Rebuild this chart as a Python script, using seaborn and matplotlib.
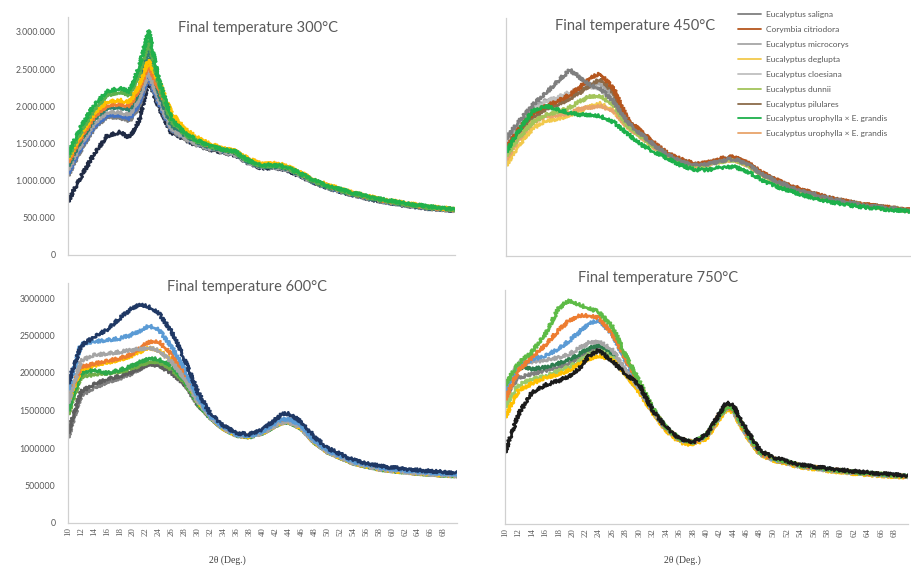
import matplotlib
matplotlib.use("Agg")
import matplotlib.pyplot as plt
from matplotlib.lines import Line2D
from matplotlib.ticker import FuncFormatter
import seaborn as sns

sns.set_theme(style="white")
plt.rcParams["font.family"] = ["Lato", "DejaVu Sans"]

# Diffraction angle (2θ, degrees) at which intensities were read
ANGLES = [10, 12, 14, 16, 18, 19.5, 21, 22.5, 24, 26, 28, 30, 32, 34, 36, 38,
          40, 42, 43, 44, 46, 48, 50, 54, 58, 62, 66, 70]

SPECIES = ["Eucalyptus saligna", "Corymbia citriodora", "Eucalyptus microcorys",
           "Eucalyptus deglupta", "Eucalyptus cloesiana", "Eucalyptus dunnii",
           "Eucalyptus pilulares", "Eucalyptus urophylla × E. grandis",
           "Eucalyptus urophylla × E. grandis"]

# Intensities (thousand counts), final temperature 300 °C
T300_SALIGNA = [1070, 1410, 1700, 1860, 1850, 1800, 2000, 2400, 2050, 1680, 1570, 1480, 1420, 1380, 1350, 1240, 1180, 1180, 1170, 1150, 1070, 980, 910, 810, 730, 670, 625, 600]
T300_CITRIODORA = [1250, 1580, 1850, 2010, 2030, 2000, 2230, 2560, 2250, 1850, 1660, 1550, 1470, 1430, 1390, 1280, 1220, 1220, 1210, 1180, 1100, 1010, 940, 830, 750, 690, 640, 610]
T300_MICROCORYS = [1150, 1480, 1760, 1920, 1920, 1880, 2100, 2460, 2100, 1700, 1580, 1490, 1430, 1390, 1350, 1240, 1180, 1180, 1170, 1150, 1070, 990, 920, 820, 740, 680, 630, 600]
T300_DEGLUPTA = [1300, 1620, 1900, 2060, 2080, 2050, 2280, 2620, 2350, 1920, 1700, 1580, 1490, 1440, 1400, 1290, 1230, 1230, 1220, 1190, 1110, 1020, 950, 840, 760, 700, 650, 615]
T300_CLOESIANA = [1100, 1440, 1720, 1880, 1880, 1830, 2040, 2420, 2060, 1690, 1590, 1500, 1440, 1400, 1360, 1250, 1190, 1190, 1180, 1160, 1080, 990, 920, 820, 740, 680, 635, 605]
T300_DUNNII = [1320, 1660, 1950, 2150, 2190, 2150, 2430, 2880, 2330, 1800, 1630, 1530, 1460, 1420, 1380, 1260, 1200, 1200, 1190, 1170, 1090, 1000, 930, 830, 750, 690, 640, 610]
T300_PILULARES = [720, 1050, 1350, 1600, 1650, 1580, 1800, 2360, 2000, 1650, 1560, 1470, 1420, 1380, 1340, 1230, 1170, 1170, 1160, 1140, 1060, 980, 910, 810, 730, 670, 625, 600]
T300_UROGRANDIS_A = [1360, 1720, 2010, 2200, 2240, 2200, 2520, 3020, 2380, 1840, 1650, 1540, 1470, 1420, 1390, 1270, 1210, 1210, 1200, 1180, 1100, 1010, 940, 840, 760, 700, 650, 615]
T300_UROGRANDIS_B = [1200, 1540, 1820, 1980, 1990, 1950, 2200, 2780, 2200, 1750, 1620, 1520, 1450, 1410, 1370, 1250, 1190, 1190, 1180, 1160, 1080, 990, 920, 820, 740, 680, 635, 605]

# Final temperature 450 °C
T450_SALIGNA = [1580, 1820, 2030, 2200, 2380, 2500, 2400, 2300, 2250, 2080, 1800, 1640, 1490, 1360, 1270, 1220, 1240, 1280, 1300, 1300, 1230, 1100, 1010, 870, 770, 700, 650, 610]
T450_CITRIODORA = [1450, 1720, 1920, 2020, 2100, 2170, 2270, 2400, 2450, 2250, 1850, 1680, 1520, 1380, 1300, 1240, 1260, 1310, 1330, 1330, 1250, 1120, 1030, 890, 780, 710, 660, 620]
T450_MICROCORYS = [1520, 1780, 1980, 2100, 2120, 2150, 2220, 2300, 2330, 2150, 1780, 1630, 1480, 1350, 1270, 1220, 1240, 1280, 1300, 1300, 1230, 1100, 1010, 870, 770, 700, 650, 610]
T450_DEGLUPTA = [1220, 1500, 1720, 1820, 1850, 1900, 1950, 2020, 2050, 1950, 1740, 1600, 1460, 1340, 1260, 1210, 1230, 1270, 1290, 1290, 1220, 1090, 1000, 860, 760, 700, 650, 610]
T450_CLOESIANA = [1480, 1740, 1950, 2080, 2150, 2200, 2250, 2280, 2250, 2100, 1770, 1620, 1480, 1350, 1270, 1220, 1240, 1280, 1300, 1300, 1230, 1100, 1010, 870, 770, 700, 650, 610]
T450_DUNNII = [1350, 1600, 1800, 1900, 1950, 2000, 2080, 2150, 2150, 2030, 1760, 1610, 1470, 1340, 1260, 1210, 1230, 1270, 1290, 1290, 1220, 1090, 1000, 860, 760, 700, 650, 610]
T450_PILULARES = [1400, 1650, 1860, 1980, 2050, 2120, 2200, 2300, 2380, 2200, 1820, 1660, 1500, 1370, 1290, 1230, 1250, 1300, 1320, 1320, 1240, 1110, 1020, 880, 780, 710, 660, 615]
T450_UROGRANDIS_A = [1400, 1700, 1950, 2020, 1960, 1920, 1900, 1900, 1880, 1800, 1650, 1500, 1400, 1310, 1220, 1160, 1160, 1190, 1200, 1200, 1130, 1020, 940, 820, 730, 670, 630, 600]
T450_UROGRANDIS_B = [1300, 1580, 1800, 1880, 1900, 1920, 1980, 2000, 2020, 1950, 1740, 1600, 1460, 1340, 1260, 1210, 1230, 1270, 1290, 1290, 1220, 1090, 1000, 860, 760, 700, 650, 610]

# Final temperature 600 °C
T600_SALIGNA = [1140, 1700, 1800, 1880, 1930, 1980, 2050, 2120, 2120, 2020, 1860, 1580, 1400, 1260, 1170, 1150, 1200, 1300, 1340, 1350, 1260, 1080, 950, 800, 720, 680, 650, 630]
T600_CITRIODORA = [1680, 2080, 2120, 2160, 2200, 2240, 2320, 2420, 2420, 2250, 1980, 1650, 1420, 1270, 1180, 1160, 1210, 1310, 1350, 1360, 1270, 1090, 960, 810, 730, 690, 660, 640]
T600_MICROCORYS = [1600, 2160, 2240, 2260, 2280, 2300, 2320, 2340, 2300, 2150, 1920, 1620, 1410, 1260, 1170, 1150, 1200, 1300, 1340, 1350, 1260, 1080, 950, 800, 720, 680, 650, 630]
T600_DEGLUPTA = [1620, 2050, 2100, 2140, 2180, 2220, 2280, 2340, 2300, 2180, 1950, 1630, 1410, 1260, 1170, 1150, 1200, 1300, 1340, 1350, 1260, 1080, 950, 800, 720, 680, 650, 630]
T600_CLOESIANA = [1780, 2380, 2420, 2440, 2460, 2500, 2560, 2630, 2580, 2350, 2050, 1680, 1420, 1270, 1180, 1160, 1220, 1330, 1380, 1390, 1300, 1100, 970, 820, 740, 700, 670, 650]
T600_DUNNII = [1500, 2000, 2040, 2000, 2040, 2080, 2140, 2200, 2180, 2100, 1900, 1600, 1400, 1260, 1170, 1150, 1200, 1300, 1340, 1350, 1260, 1080, 950, 800, 720, 680, 650, 630]
T600_PILULARES = [1860, 2360, 2480, 2580, 2730, 2840, 2920, 2880, 2800, 2550, 2180, 1750, 1450, 1300, 1200, 1180, 1250, 1380, 1450, 1460, 1350, 1150, 1000, 840, 760, 720, 690, 670]
T600_UROGRANDIS_A = [1450, 1950, 1980, 2000, 2020, 2050, 2100, 2150, 2150, 2050, 1880, 1590, 1400, 1260, 1170, 1150, 1200, 1300, 1340, 1350, 1260, 1080, 950, 800, 720, 680, 650, 630]
T600_UROGRANDIS_B = [1200, 1750, 1850, 1920, 1960, 2000, 2060, 2120, 2100, 2000, 1850, 1580, 1400, 1260, 1170, 1150, 1200, 1300, 1340, 1350, 1260, 1080, 950, 800, 720, 680, 650, 630]

# Final temperature 750 °C
T750_SALIGNA = [1750, 2000, 2050, 2100, 2150, 2200, 2280, 2360, 2420, 2300, 2050, 1820, 1540, 1300, 1150, 1110, 1200, 1480, 1580, 1550, 1220, 960, 880, 790, 740, 700, 670, 650]
T750_CITRIODORA = [1700, 2100, 2280, 2450, 2650, 2780, 2850, 2850, 2820, 2600, 2250, 1920, 1560, 1310, 1160, 1120, 1210, 1500, 1600, 1570, 1240, 970, 890, 800, 750, 710, 680, 650]
T750_MICROCORYS = [1850, 2200, 2220, 2240, 2280, 2320, 2400, 2480, 2500, 2380, 2100, 1850, 1550, 1300, 1150, 1110, 1200, 1480, 1580, 1550, 1220, 960, 880, 790, 740, 700, 670, 650]
T750_DEGLUPTA = [1460, 1820, 1920, 2000, 2050, 2100, 2180, 2260, 2300, 2250, 2050, 1800, 1520, 1280, 1120, 1080, 1170, 1450, 1560, 1530, 1200, 950, 870, 780, 730, 690, 660, 640]
T750_CLOESIANA = [1800, 2150, 2250, 2300, 2400, 2500, 2620, 2750, 2780, 2600, 2220, 1900, 1560, 1310, 1160, 1120, 1210, 1500, 1600, 1570, 1240, 970, 890, 800, 750, 710, 680, 650]
T750_DUNNII = [1900, 2200, 2350, 2600, 2950, 3060, 3000, 2950, 2900, 2700, 2300, 1950, 1580, 1320, 1160, 1120, 1220, 1500, 1600, 1580, 1250, 980, 900, 800, 750, 710, 680, 650]
T750_PILULARES = [980, 1500, 1800, 1900, 1960, 2020, 2120, 2300, 2380, 2220, 2050, 1900, 1550, 1320, 1170, 1120, 1220, 1520, 1660, 1620, 1280, 1000, 910, 810, 760, 720, 690, 660]
T750_UROGRANDIS_A = [1600, 1900, 1980, 2020, 2100, 2150, 2220, 2320, 2380, 2280, 2050, 1820, 1540, 1300, 1150, 1110, 1200, 1480, 1580, 1550, 1220, 960, 880, 790, 740, 700, 670, 650]
T750_UROGRANDIS_B = [1870, 2150, 2120, 2140, 2200, 2250, 2320, 2400, 2450, 2330, 2080, 1830, 1550, 1300, 1150, 1110, 1200, 1480, 1580, 1550, 1220, 960, 880, 790, 740, 700, 670, 650]

# Line colours per chart, in SPECIES order
COLORS_300 = ["#7F7F7F", "#ED7D31", "#A5A5A5", "#FFC000", "#4472C4", "#5DB04C", "#1F2A44", "#22B14C", "#2F7F6F"]
COLORS_450 = ["#7F7F7F", "#B5561E", "#A6A6A6", "#F2C94C", "#BFBFBF", "#A3C45A", "#8B6B4A", "#1DB04B", "#E8A46A"]
COLORS_600 = ["#7F7F7F", "#ED7D31", "#A5A5A5", "#FFC000", "#5B9BD5", "#2DA84A", "#1F3864", "#70AD47", "#5E5E5E"]
COLORS_750 = ["#7F7F7F", "#ED7D31", "#A5A5A5", "#FFC000", "#5B9BD5", "#5DBB46", "#1A1A1A", "#9BCB6B", "#2E7D4F"]

PANELS = [
    dict(title="Final temperature 300°C", colors=COLORS_300,
         series=[T300_SALIGNA, T300_CITRIODORA, T300_MICROCORYS, T300_DEGLUPTA, T300_CLOESIANA,
                 T300_DUNNII, T300_PILULARES, T300_UROGRANDIS_A, T300_UROGRANDIS_B],
         order=[6, 0, 4, 2, 8, 1, 3, 5, 7],
         rect=[68 / 911, 1 - 255 / 567, 387 / 911, 238 / 567], title_xy=(0.49, 0.955)),
    dict(title="Final temperature 450°C", colors=COLORS_450,
         series=[T450_SALIGNA, T450_CITRIODORA, T450_MICROCORYS, T450_DEGLUPTA, T450_CLOESIANA,
                 T450_DUNNII, T450_PILULARES, T450_UROGRANDIS_A, T450_UROGRANDIS_B],
         order=[2, 4, 6, 3, 8, 5, 1, 0, 7],
         rect=[506 / 911, 1 - 256 / 567, 404 / 911, 238 / 567], title_xy=(0.32, 0.966)),
    dict(title="Final temperature 600°C", colors=COLORS_600,
         series=[T600_SALIGNA, T600_CITRIODORA, T600_MICROCORYS, T600_DEGLUPTA, T600_CLOESIANA,
                 T600_DUNNII, T600_PILULARES, T600_UROGRANDIS_A, T600_UROGRANDIS_B],
         order=[0, 8, 7, 5, 3, 1, 2, 4, 6],
         rect=[68 / 911, 1 - 523 / 567, 389 / 911, 240 / 567], title_xy=(0.46, 0.983)),
    dict(title="Final temperature 750°C", colors=COLORS_750,
         series=[T750_SALIGNA, T750_CITRIODORA, T750_MICROCORYS, T750_DEGLUPTA, T750_CLOESIANA,
                 T750_DUNNII, T750_PILULARES, T750_UROGRANDIS_A, T750_UROGRANDIS_B],
         order=[0, 8, 7, 3, 2, 4, 1, 5, 6],
         rect=[505 / 911, 1 - 524 / 567, 403 / 911, 234 / 567], title_xy=(0.38, 1.05)),
]

GREY_TEXT = "#595959"
SPINE = "#D0D0D0"
XTICKS = list(range(10, 70, 2))

fig = plt.figure(figsize=(9.11, 5.67), dpi=100)
fig.patch.set_facecolor("white")

axes = []
for p in PANELS:
    ax = fig.add_axes(p["rect"])
    for idx in p["order"]:
        sns.lineplot(x=ANGLES, y=[v * 1000 for v in p["series"][idx]], ax=ax,
                     color=p["colors"][idx], linewidth=1.9, estimator=None,
                     sort=False, legend=False)
    for ln in ax.lines:
        ln.set_sketch_params(scale=1.6, length=2.5, randomness=2.0)
        ln.set_solid_joinstyle("round")
    ax.set_xlim(10, 70)
    ax.set_ylim(0, 3200000)
    ax.set_facecolor("white")
    for s in ("top", "right"):
        ax.spines[s].set_visible(False)
    for s in ("left", "bottom"):
        ax.spines[s].set_color(SPINE)
        ax.spines[s].set_linewidth(0.9)
    ax.tick_params(length=0, colors=GREY_TEXT)
    ax.set_xlabel("")
    ax.set_ylabel("")
    ax.text(p["title_xy"][0], p["title_xy"][1], p["title"], transform=ax.transAxes,
            ha="center", va="center", fontsize=10.5, color=GREY_TEXT)
    axes.append(ax)

ax300, ax450, ax600, ax750 = axes
yt = [0, 500000, 1000000, 1500000, 2000000, 2500000, 3000000]

# Top-left: dotted thousands separators
ax300.set_yticks(yt)
ax300.yaxis.set_major_formatter(FuncFormatter(lambda v, _: f"{int(v):,}".replace(",", ".")))
ax300.tick_params(axis="y", labelsize=6.3, pad=9)
ax300.set_xticks([])

ax450.set_yticks([])
ax450.set_xticks([])

ax600.set_yticks(yt)
ax600.yaxis.set_major_formatter(FuncFormatter(lambda v, _: f"{int(v)}"))
ax600.tick_params(axis="y", labelsize=6.3, pad=9)

ax750.set_yticks([])

for ax, lx in ((ax600, 0.41), (ax750, 0.44)):
    ax.set_xticks(XTICKS)
    ax.set_xticklabels([str(t) for t in XTICKS], rotation=90, fontsize=6.3,
                       family=["Liberation Serif", "DejaVu Serif"], color=GREY_TEXT)
    ax.tick_params(axis="x", pad=3)
    ax.set_xlabel("2θ (Deg.)", fontsize=7, family=["Liberation Serif", "DejaVu Serif"],
                  color="#404040")
    ax.xaxis.set_label_coords(lx, -0.135)

handles = [Line2D([], [], color=c, linewidth=1.3) for c in COLORS_450]
fig.legend(handles, SPECIES, loc="upper left", bbox_to_anchor=(738 / 911, 1 - 11 / 567),
           frameon=False, fontsize=6, handlelength=2.8, handletextpad=0.5,
           labelspacing=0.95, borderpad=0, borderaxespad=0, labelcolor=GREY_TEXT)

fig.savefig("out.png", dpi=100, facecolor="white")
